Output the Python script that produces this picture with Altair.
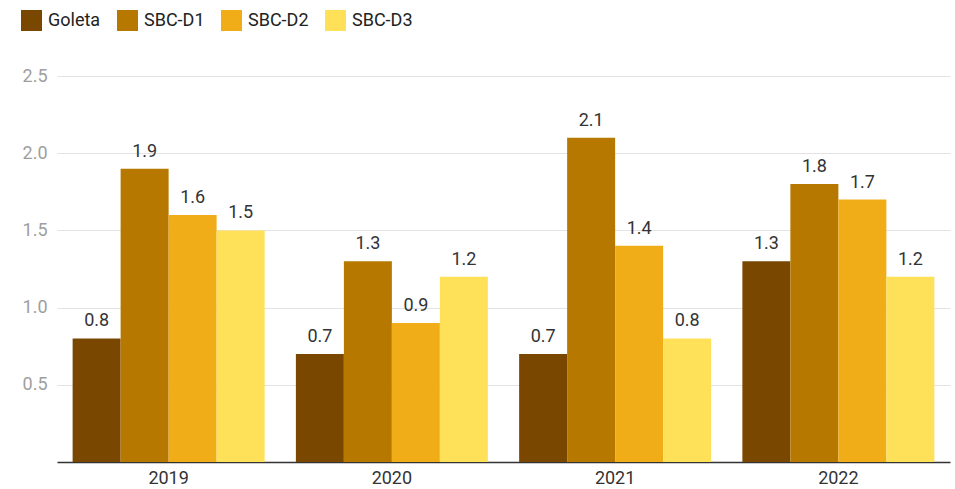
import altair as alt
import pandas as pd

years = ["2019", "2020", "2021", "2022"]
series = ["Goleta", "SBC-D1", "SBC-D2", "SBC-D3"]
goleta = [0.8, 0.7, 0.7, 1.3]
sbc_d1 = [1.9, 1.3, 2.1, 1.8]
sbc_d2 = [1.6, 0.9, 1.4, 1.7]
sbc_d3 = [1.5, 1.2, 0.8, 1.2]
colors = ["#7A4700", "#B77800", "#F0AD17", "#FFE159"]
y_ticks = [0.5, 1.0, 1.5, 2.0, 2.5]

rows = []
for s, vals in zip(series, [goleta, sbc_d1, sbc_d2, sbc_d3]):
    for yr, v in zip(years, vals):
        rows.append({"year": yr, "series": s, "value": v})
df = pd.DataFrame(rows)

font = "Roboto"
fs = 18

x = alt.X("year:N", sort=years, title=None,
          scale=alt.Scale(paddingInner=0.14, paddingOuter=0.07),
          axis=alt.Axis(labelAngle=0, labelFontSize=fs, labelColor="#333333",
                        labelFont=font, ticks=False, domainColor="#333333",
                        domainWidth=1.5, labelPadding=7, grid=False))
y = alt.Y("value:Q", title=None,
          scale=alt.Scale(domain=[0, 2.5], nice=False),
          axis=alt.Axis(values=y_ticks, labelFontSize=fs, labelColor="#9e9e9e",
                        labelFont=font, ticks=False, domain=False,
                        gridColor="#e3e3e3", gridWidth=1, labelPadding=10,
                        format=".1f"))
xo = alt.XOffset("series:N", sort=series)

base = alt.Chart(df).encode(x=x, xOffset=xo, y=y)

bars = base.mark_bar().encode(
    color=alt.Color("series:N", sort=series,
                    scale=alt.Scale(domain=series, range=colors),
                    legend=alt.Legend(title=None, orient="none", legendX=-36, legendY=-66,
                                      direction="horizontal", symbolType="square",
                                      symbolSize=440, symbolStrokeWidth=0,
                                      labelFontSize=fs, labelFont=font,
                                      labelColor="#222222", columnPadding=16,
                                      labelOffset=6)),
)

labels = base.mark_text(baseline="alphabetic", dy=-12, fontSize=fs, font=font,
                        color="#333333").encode(
    text=alt.Text("value:Q", format=".1f"),
)

chart = (bars + labels).properties(
    width=893, height=386,
    background="white",
    padding={"left": 57, "top": 76, "right": 5, "bottom": 27},
    autosize=alt.AutoSizeParams(type="none"),
).configure_view(strokeWidth=0, stroke="transparent"
).configure_axisY(domain=False).configure_axisX(grid=False)

chart.save("out.html", embed_options={"renderer": "svg", "actions": False})
